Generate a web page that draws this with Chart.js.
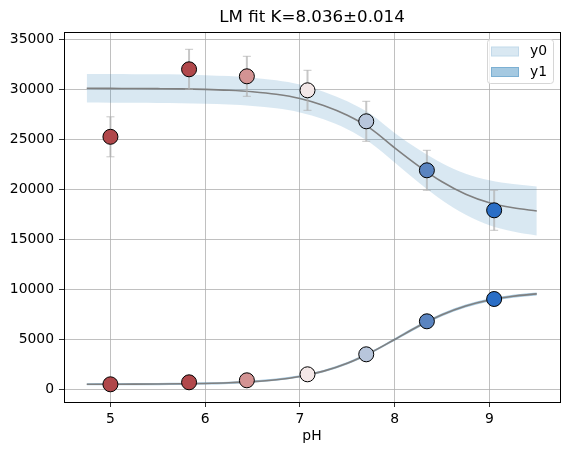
<!DOCTYPE html>
<html>
<head>
<meta charset="utf-8">
<script src="https://cdn.jsdelivr.net/npm/chart.js@4/dist/chart.umd.min.js"></script>
<style>
html,body{margin:0;padding:0;background:#fff;}
#wrap{width:569px;height:455px;}
</style>
</head>
<body>
<div id="wrap"><canvas id="c" width="569" height="455"></canvas></div>
<script>
// ---- data ----
const titleText = "LM fit K=8.036\u00b10.014";
const xLabel = "pH";
const pH = [5.00, 5.83, 6.44, 7.08, 7.70, 8.34, 9.05];
const y0 = [25250, 32000, 31300, 29900, 26800, 21900, 17900];
const y0Err = [2000, 2000, 2000, 2000, 2000, 2000, 2000];
const y1 = [500, 700, 900, 1500, 3500, 6800, 9030];

const fitPH = [4.75, 5.0, 5.25, 5.5, 5.75, 6.0, 6.25, 6.5, 6.75, 7.0, 7.25, 7.5, 7.75, 8.0, 8.25, 8.5, 8.75, 9.0, 9.25, 9.5];
const fitY0 = [30100, 30090, 30080, 30065, 30040, 29990, 29900, 29750, 29500, 29080, 28380, 27400, 26050, 24150, 22350, 20750, 19500, 18650, 18150, 17830];
const bandY0 = [1430, 1430, 1430, 1430, 1430, 1425, 1420, 1410, 1400, 1390, 1385, 1400, 1450, 1480, 1650, 1850, 2050, 2250, 2370, 2450];
const fitY1 = [505, 509, 515, 527, 548, 585, 651, 764, 960, 1288, 1816, 2608, 3689, 4981, 6304, 7459, 8336, 8934, 9311, 9540];
const bandY1 = [110, 110, 110, 110, 110, 110, 110, 110, 110, 115, 120, 125, 130, 135, 140, 145, 150, 150, 150, 150];

const xTicks = [5, 6, 7, 8, 9];
const yTicks = [0, 5000, 10000, 15000, 20000, 25000, 30000, 35000];
const legendLabels = ["y0", "y1"];

// ---- styles ----
const pointColors = ["#b0474a", "#b1484b", "#d39393", "#f3e7e7", "#b8c6dc", "#5a84c0", "#2a6ec6"];
const bandColor0 = "rgba(31,119,180,0.17)";
const bandColor1 = "rgba(31,119,180,0.40)";
const curveColor = "#808080";
const tickFont = 13.9;

const pts = (xs, ys) => xs.map((x, i) => ({x: x, y: ys[i]}));
const ptsOff = (xs, ys, d, s) => xs.map((x, i) => ({x: x, y: ys[i] + s * d[i]}));

Chart.defaults.font.family = "'DejaVu Sans', sans-serif";
Chart.defaults.font.size = tickFont;
Chart.defaults.color = "#000";

const errorBars = {
  id: 'errorBars',
  beforeDatasetDraw(chart, args) {
    if (chart.data.datasets[args.index].label !== 'y0pts') return;
    const ctx = chart.ctx, xs = chart.scales.x, ys = chart.scales.y;
    ctx.save();
    ctx.strokeStyle = "rgba(175,175,175,0.7)";
    pH.forEach((p, i) => {
      const px = xs.getPixelForValue(p);
      const t = ys.getPixelForValue(y0[i] + y0Err[i]);
      const b = ys.getPixelForValue(y0[i] - y0Err[i]);
      ctx.lineWidth = 2;
      ctx.beginPath(); ctx.moveTo(px, t); ctx.lineTo(px, b); ctx.stroke();
      ctx.lineWidth = 1;
      ctx.beginPath();
      ctx.moveTo(px - 4, t); ctx.lineTo(px + 4, t);
      ctx.moveTo(px - 4, b); ctx.lineTo(px + 4, b);
      ctx.stroke();
    });
    ctx.restore();
  }
};

const decorations = {
  id: 'decorations',
  afterDraw(chart) {
    const ctx = chart.ctx, a = chart.chartArea;
    ctx.save();
    // frame
    ctx.strokeStyle = "#000"; ctx.lineWidth = 1;
    ctx.strokeRect(Math.round(a.left) + 0.5, Math.round(a.top) + 0.5, Math.round(a.right - a.left), Math.round(a.bottom - a.top));
    // title
    ctx.fillStyle = "#000";
    ctx.textAlign = "center"; ctx.textBaseline = "middle";
    ctx.font = "16.67px 'DejaVu Sans'";
    ctx.fillText(titleText, (a.left + a.right) / 2, 17.5);
    // x label
    ctx.font = tickFont + "px 'DejaVu Sans'";
    ctx.fillText(xLabel, (a.left + a.right) / 2, 436);
    // legend
    const lx = 487.5, ly = 39.5, lw = 66, lh = 44;
    ctx.fillStyle = "rgba(255,255,255,0.8)";
    ctx.strokeStyle = "#d6d6d6";
    ctx.beginPath();
    if (ctx.roundRect) ctx.roundRect(lx, ly, lw, lh, 3); else ctx.rect(lx, ly, lw, lh);
    ctx.fill(); ctx.stroke();
    const patchFill = [bandColor0, bandColor1];
    const patchEdge = ["rgba(31,119,180,0.12)", "rgba(31,119,180,0.30)"];
    legendLabels.forEach((lab, i) => {
      const py = 46.5 + i * 20.5;
      ctx.fillStyle = "#fff";
      ctx.fillRect(491, py, 28, 10);
      ctx.fillStyle = patchFill[i];
      ctx.fillRect(491, py, 28, 10);
      ctx.strokeStyle = patchEdge[i];
      ctx.strokeRect(491.5, py + 0.5, 27, 9);
      ctx.fillStyle = "#000";
      ctx.textAlign = "left"; ctx.textBaseline = "middle";
      ctx.font = tickFont + "px 'DejaVu Sans'";
      ctx.fillText(lab, 530, py + 5);
    });
    ctx.restore();
  }
};

const lineDs = (label, data, color, width, fill, order) => ({
  label: label, data: data, showLine: true, pointRadius: 0, pointHoverRadius: 0,
  borderColor: color, borderWidth: width, backgroundColor: fill ? color : 'transparent',
  fill: fill, cubicInterpolationMode: 'monotone', order: order
});

new Chart(document.getElementById('c'), {
  type: 'scatter',
  data: {
    datasets: [
      Object.assign(lineDs('b0up', ptsOff(fitPH, fitY0, bandY0, 1), 'rgba(0,0,0,0)', 0, '+1', 10), {backgroundColor: bandColor0}),
      lineDs('b0lo', ptsOff(fitPH, fitY0, bandY0, -1), 'rgba(0,0,0,0)', 0, false, 10),
      Object.assign(lineDs('b1up', ptsOff(fitPH, fitY1, bandY1, 1), 'rgba(0,0,0,0)', 0, '+1', 9), {backgroundColor: bandColor1}),
      lineDs('b1lo', ptsOff(fitPH, fitY1, bandY1, -1), 'rgba(0,0,0,0)', 0, false, 9),
      lineDs('fit0', pts(fitPH, fitY0), curveColor, 1.6, false, 5),
      lineDs('fit1', pts(fitPH, fitY1), curveColor, 1.6, false, 5),
      {label: 'y0pts', data: pts(pH, y0), pointRadius: 7.5, pointHoverRadius: 7.5,
       pointBackgroundColor: pointColors, pointBorderColor: '#000', pointBorderWidth: 1, order: 1},
      {label: 'y1pts', data: pts(pH, y1), pointRadius: 7.5, pointHoverRadius: 7.5,
       pointBackgroundColor: pointColors, pointBorderColor: '#000', pointBorderWidth: 1, order: 1}
    ]
  },
  options: {
    responsive: false, animation: false,
    layout: {padding: {top: 32, right: 9, left: 0, bottom: 0}},
    plugins: {legend: {display: false}, title: {display: false}, tooltip: {enabled: false}},
    scales: {
      x: {
        type: 'linear', min: 4.51, max: 9.745,
        afterBuildTicks: s => { s.ticks = xTicks.map(v => ({value: v})); },
        afterFit: s => { s.height = 53; },
        grid: {color: '#b0b0b0', lineWidth: 0.8, tickColor: '#000', tickLength: 5, drawTicks: true},
        border: {display: true, color: '#000', width: 1},
        ticks: {padding: 4, color: '#000', callback: v => String(v), maxRotation: 0}
      },
      y: {
        type: 'linear', min: -1270, max: 35730,
        afterBuildTicks: s => { s.ticks = yTicks.map(v => ({value: v})); },
        afterFit: s => { s.width = 64; },
        grid: {color: '#b0b0b0', lineWidth: 0.8, tickColor: '#000', tickLength: 5, drawTicks: true},
        border: {display: true, color: '#000', width: 1},
        ticks: {padding: 5, color: '#000', callback: v => String(v)}
      }
    }
  },
  plugins: [errorBars, decorations]
});
</script>
</body>
</html>
